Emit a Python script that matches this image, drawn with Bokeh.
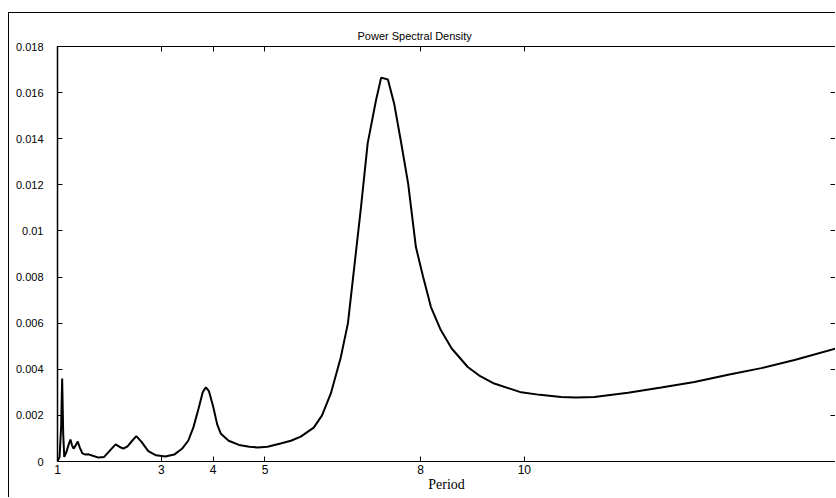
from bokeh.plotting import figure
from bokeh.models import LinearAxis, FixedTicker, Range1d, ColumnDataSource
from bokeh.embed import file_html
from bokeh.resources import INLINE

# ---- data ----
period = [1.0, 1.04, 1.07, 1.09, 1.11, 1.13, 1.17, 1.21, 1.25, 1.28, 1.31, 1.35,
          1.39, 1.43, 1.48, 1.54, 1.6, 1.68, 1.79, 1.9, 2.0, 2.12, 2.2, 2.27,
          2.35, 2.44, 2.52, 2.62, 2.75, 2.9, 3.08, 3.25, 3.4, 3.52, 3.62, 3.72,
          3.8, 3.86, 3.92, 4.0, 4.08, 4.15, 4.3, 4.5, 4.7, 4.86, 5.05, 5.3, 5.5,
          5.69, 5.94, 6.1, 6.27, 6.46, 6.6, 6.71, 6.85, 6.98, 7.14, 7.24, 7.37,
          7.49, 7.62, 7.76, 7.91, 8.05, 8.2, 8.39, 8.6, 8.91, 9.15, 9.42, 9.94,
          10.3, 10.71, 11.0, 11.35, 12.0, 12.64, 13.28, 13.93, 14.57, 15.21, 16.0]
psd = [0.0, 0.0002, 0.0015, 0.0036, 0.0012, 0.0002, 0.0004, 0.0007, 0.00095, 0.0007,
       0.00056, 0.0007, 0.00087, 0.0006, 0.00035, 0.0003, 0.00031, 0.00025, 0.00017,
       0.0002, 0.00045, 0.00074, 0.00063, 0.00056, 0.00066, 0.0009, 0.0011, 0.00085,
       0.00045, 0.00027, 0.00022, 0.0003, 0.00055, 0.0009, 0.00148, 0.0023, 0.003,
       0.00322, 0.00305, 0.0024, 0.0016, 0.0012, 0.0009, 0.00072, 0.00064, 0.00061,
       0.00064, 0.00078, 0.0009, 0.00108, 0.00147, 0.002, 0.00295, 0.0045, 0.006,
       0.0082, 0.011, 0.0138, 0.01566, 0.01665, 0.01657, 0.01553, 0.0139, 0.01206,
       0.0093, 0.008, 0.0067, 0.0057, 0.0049, 0.0041, 0.0037, 0.00338, 0.003,
       0.00289, 0.0028, 0.00278, 0.0028, 0.00298, 0.00321, 0.00345, 0.00376,
       0.00405, 0.0044, 0.0049]

x_ticks = [1, 3, 4, 5, 8, 10]
y_ticks = [0, 0.002, 0.004, 0.006, 0.008, 0.01, 0.012, 0.014, 0.016, 0.018]
y_tick_labels = ["0", "0.002", "0.004", "0.006", "0.008", "0.01", "0.012",
                 "0.014", "0.016", "0.018"]

source = ColumnDataSource(dict(period=period, psd=psd))

p = figure(width=827, height=485, output_backend="svg", toolbar_location=None,
           x_range=Range1d(1, 16), y_range=Range1d(0, 0.018),
           min_border_left=48, min_border_right=1, min_border_top=33,
           min_border_bottom=37, title="Power Spectral Density")
p.styles = {"border-top": "1px solid black", "border-left": "1px solid black",
            "margin-top": "12px", "margin-left": "8px"}

p.title.align = "left"
p.title.offset = 300
p.title.text_font = "Liberation Sans"
p.title.text_font_size = "11px"
p.title.text_font_style = "normal"
p.title.text_color = "black"
p.title.standoff = 9

p.grid.visible = False
p.outline_line_color = "black"
p.outline_line_width = 1
p.background_fill_color = "white"
p.border_fill_color = "white"

p.line("period", "psd", source=source, line_color="black", line_width=2)

xa = p.xaxis[0]
xa.ticker = FixedTicker(ticks=x_ticks)
xa.minor_tick_line_color = None
xa.major_tick_in = 5
xa.major_tick_out = 0
xa.major_label_standoff = 3
xa.major_label_text_font = "Liberation Sans"
xa.major_label_text_font_size = "12px"
xa.major_label_text_color = "black"
xa.axis_label = "Period"
xa.axis_label_text_font = "Liberation Serif"
xa.axis_label_text_font_size = "14px"
xa.axis_label_text_font_style = "normal"
xa.axis_label_text_color = "black"
xa.axis_label_standoff = 0
xa.axis_line_color = "black"

ya = p.yaxis[0]
ya.ticker = FixedTicker(ticks=y_ticks)
ya.major_label_overrides = {t: s for t, s in zip(y_ticks, y_tick_labels)}
ya.minor_tick_line_color = None
ya.major_tick_in = 5
ya.major_tick_out = 0
ya.major_label_standoff = 14
ya.major_label_text_font = "Liberation Sans"
ya.major_label_text_font_size = "11px"
ya.major_label_text_color = "black"
ya.axis_line_color = "black"
ya.axis_line_width = 1.5

top = LinearAxis(ticker=FixedTicker(ticks=x_ticks), major_tick_in=5, major_tick_out=0,
                 minor_tick_line_color=None, major_label_standoff=0,
                 major_label_overrides={t: "" for t in x_ticks},
                 axis_line_color="black")
right = LinearAxis(ticker=FixedTicker(ticks=y_ticks), major_tick_in=5, major_tick_out=0,
                   minor_tick_line_color=None, major_label_standoff=0,
                   major_label_overrides={t: "" for t in y_ticks},
                   axis_line_color="black")
p.add_layout(top, "above")
p.add_layout(right, "right")

open("out.html", "w").write(file_html(p, INLINE))
